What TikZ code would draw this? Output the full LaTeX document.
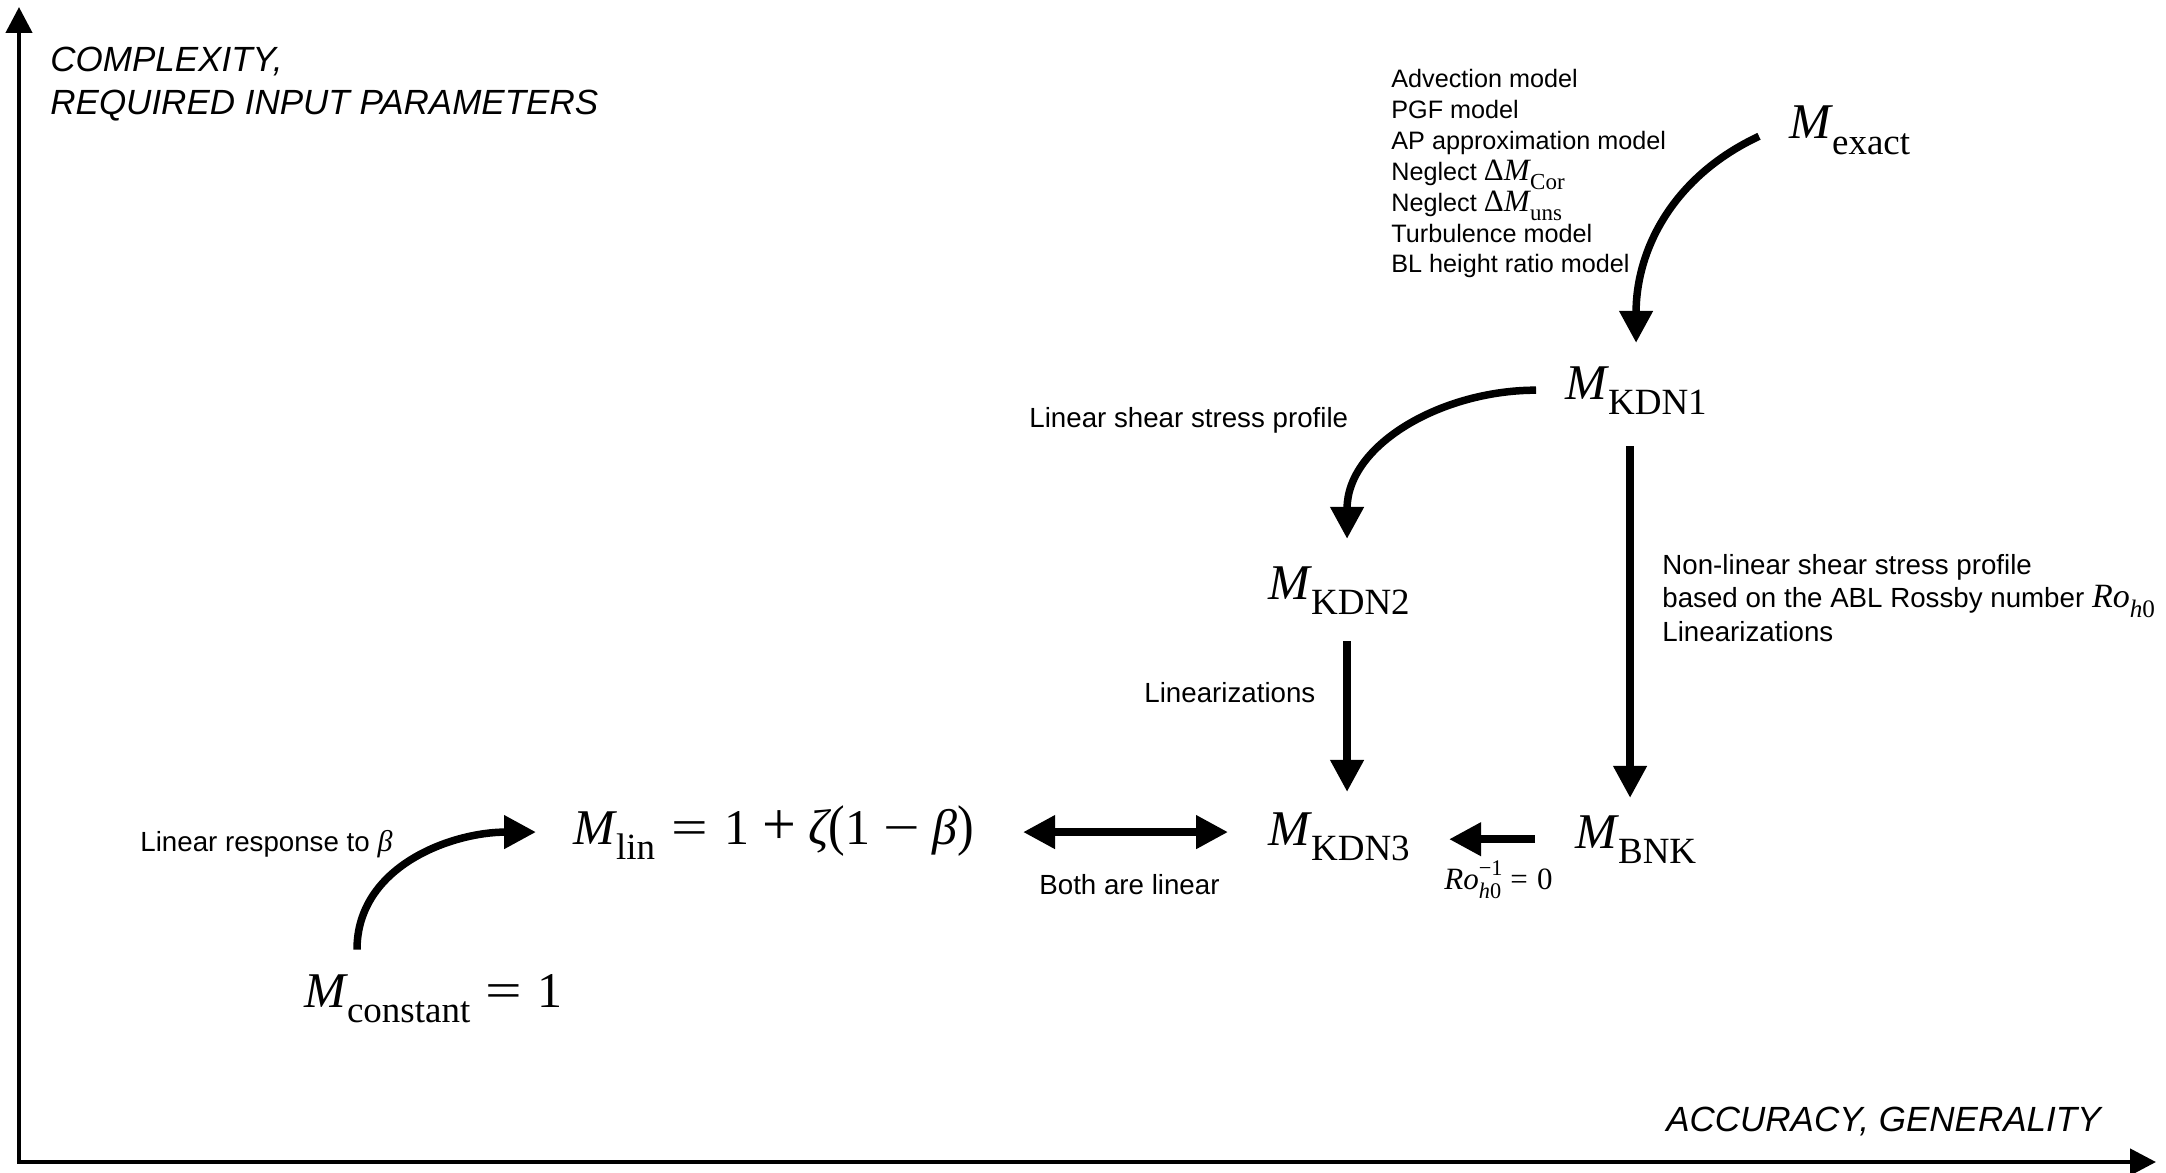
\documentclass[tikz,border=0pt]{standalone}
\usepackage{fontspec}
\setmainfont{Liberation Sans}
\newfontfamily\mfont{Liberation Serif}
\usepackage{graphicx}
\usetikzlibrary{arrows.meta,calc}
\newcommand\Mi{{\mfont\itshape M}}
\newcommand\sbx[1]{\raisebox{-0.3em}{\scalebox{0.74}{\mfont #1}}}
\newcommand\Msub[1]{\Mi\kern0.02em\sbx{#1}}
\newcommand\opx[1]{\scalebox{1.3}[1]{#1}}
\newcommand\sfm[1]{{\fontsize{15.5}{16}\selectfont #1}}
\tikzset{
  arr/.style={line width=3.75pt,-{Triangle[length=16pt,width=16pt]}},
  darr/.style={line width=3.75pt,{Triangle[length=16pt,width=16pt]}-{Triangle[length=16pt,width=16pt]}},
  axis/.style={line width=2.25pt,{Triangle[length=13pt,width=13pt]}-{Triangle[length=13pt,width=13pt]}},
  mnode/.style={inner sep=0pt,font=\fontsize{25}{30}\selectfont\mfont,anchor=base west},
  lbl/.style={inner sep=0pt,font=\fontsize{13.85}{16}\selectfont,anchor=base west},
  lst/.style={inner sep=0pt,font=\fontsize{12.6}{15}\selectfont,anchor=base west},
  axl/.style={inner sep=0pt,font=\fontsize{17.5}{21}\selectfont\itshape,anchor=base west},
}
\begin{document}
\begin{tikzpicture}[x=0.5pt,y=0.5pt]
\useasboundingbox (0,0) rectangle (2166,-1172);
% axes
\coordinate (o) at (19,-1162);
\coordinate (ytop) at (19,-7);
\coordinate (xend) at (2156,-1162);
\draw[axis] (ytop) -- (o) -- (xend);
\node[axl] (yl1) at (50,-72) {COMPLEXITY,};
\node[axl] (yl2) at (50,-114) {REQUIRED INPUT PARAMETERS};
\node[axl,anchor=base east] (xl) at (2101,-1131) {ACCURACY, GENERALITY};
% model nodes
\node[mnode] (mexact) at (1789,-139) {\Msub{exact}};
\node[mnode] (kdn1) at (1565,-399) {\Msub{KDN1}};
\node[mnode] (kdn2) at (1268,-599) {\Msub{KDN2}};
\node[mnode] (kdn3) at (1268,-845) {\Msub{KDN3}};
\node[mnode] (bnk) at (1575,-848) {\Msub{BNK}};
\node[mnode] (mlin) at (573,-844) {\Msub{lin}\hspace{0.33em}\opx{=}\hspace{0.33em}1\hspace{0.25em}\scalebox{1.2}{+}\hspace{0.25em}{\itshape ζ}\scalebox{1}[1.12]{(}1\hspace{0.25em}\opx{−}\hspace{0.25em}{\itshape β}\scalebox{1}[1.12]{)}};
\node[mnode] (mconst) at (304,-1007) {\Msub{constant}\hspace{0.3em}\opx{=}\hspace{0.3em}1};
% list of assumptions
\node[lst] (l1) at (1391,-88) {Advection model};
\node[lst] (l2) at (1391,-118.8) {PGF model};
\node[lst] (l3) at (1391,-149.6) {AP approximation model};
\node[lst] (l4) at (1391,-180.4) {Neglect \sfm{{\mfont Δ}\Msub{Cor}}};
\node[lst] (l5) at (1391,-211.2) {Neglect \sfm{{\mfont Δ}\Msub{uns}}};
\node[lst] (l6) at (1391,-242) {Turbulence model};
\node[lst] (l7) at (1391,-272.8) {BL height ratio model};
% other labels
\node[lbl] (lss) at (1029,-427) {Linear shear stress profile};
\node[lbl] (nl1) at (1662,-574) {Non-linear shear stress profile};
\node[lbl] (nl2) at (1662,-607) {based on the ABL Rossby number {\fontsize{17}{18}\selectfont\mfont\itshape Ro\sbx{\itshape h\upshape 0}}};
\node[lbl] (nl3) at (1662,-641) {Linearizations};
\node[lbl] (lin2) at (1144,-702) {Linearizations};
\node[lbl] (both) at (1039,-894) {Both are linear};
\node[lbl] (resp) at (140,-851) {Linear response to {\fontsize{15}{16}\selectfont\mfont\itshape β}};
\node[inner sep=0pt,anchor=base west,font=\fontsize{15.5}{18}\selectfont\mfont] (rolbl) at (1444,-889)
  {{\itshape Ro}\rlap{\raisebox{0.42em}{\scalebox{0.72}{−1}}}\raisebox{-0.3em}{\scalebox{0.72}{\itshape h\upshape 0}}\hspace{0.3em}=\hspace{0.3em}0};
% connectors
\draw[arr] ([xshift=-15pt,yshift=-3pt]mexact.west) to[out=205,in=90] ([yshift=11.5pt]kdn1.north);
\draw[arr] ([xshift=-14.5pt]kdn1.west) to[out=180,in=90] ([xshift=4pt,yshift=13.5pt]kdn2.north);
\draw[arr] ([xshift=-3pt,yshift=-16pt]kdn1.south) coordinate (s3) -- ($(s3 |- bnk.north)+(0,17)$);
\draw[arr] ([xshift=4pt,yshift=-13.5pt]kdn2.south) coordinate (s4) -- ($(s4 |- kdn3.north)+(0,20)$);
\draw[arr] ([xshift=-20pt]bnk.west) coordinate (s5) -- ($(kdn3.east |- s5)+(39,0)$);
\draw[darr] ([xshift=24.5pt]mlin.east) coordinate (s6) -- ($(kdn3.west |- s6)+(-40,0)$);
\draw[arr] ([xshift=26.5pt,yshift=12pt]mconst.north west) to[out=90,in=180] ([xshift=-18.5pt]mlin.west);
\end{tikzpicture}
\end{document}
